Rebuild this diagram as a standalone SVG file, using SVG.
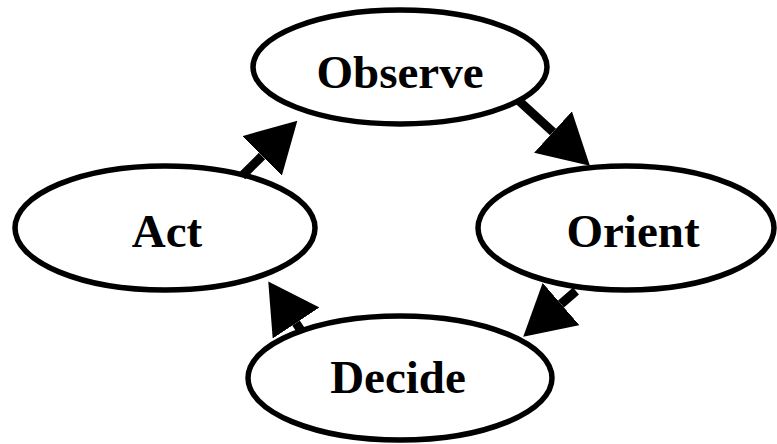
<svg xmlns="http://www.w3.org/2000/svg" width="777" height="444" viewBox="0 0 777 444">
<style>
.n{fill:#fff;stroke:#000;stroke-width:5.5}
.t{font-family:"Liberation Serif",serif;font-weight:bold;font-size:47px;fill:#000;text-anchor:middle}
.c{stroke:#000;stroke-width:9;fill:none}
</style>
<defs>
<marker id="ah" markerUnits="userSpaceOnUse" viewBox="0 0 50 56" refX="0" refY="28" markerWidth="50" markerHeight="56" orient="auto">
<path d="M0,0 L50,28 L0,56 Z" fill="#000"/>
</marker>
</defs>
<rect width="777" height="444" fill="#fff"/>
<g id="observe"><ellipse class="n" cx="400" cy="67" rx="147" ry="57"/><text class="t" x="400" y="88">Observe</text></g>
<g id="orient"><ellipse class="n" cx="626" cy="228" rx="148" ry="62"/><text class="t" x="633" y="247">Orient</text></g>
<g id="act"><ellipse class="n" cx="165" cy="228" rx="150" ry="62"/><text class="t" x="167" y="247">Act</text></g>
<g id="decide"><ellipse class="n" cx="400" cy="378" rx="152" ry="62"/><text class="t" x="398" y="393">Decide</text></g>
<g id="connectors">
<line class="c" x1="242" y1="176" x2="262" y2="156" marker-end="url(#ah)"/>
<line class="c" x1="518" y1="100" x2="553" y2="132" marker-end="url(#ah)"/>
<line class="c" x1="576" y1="291" x2="561" y2="304" marker-end="url(#ah)"/>
<line class="c" x1="302" y1="332" x2="296" y2="323" marker-end="url(#ah)"/>
</g>
</svg>
